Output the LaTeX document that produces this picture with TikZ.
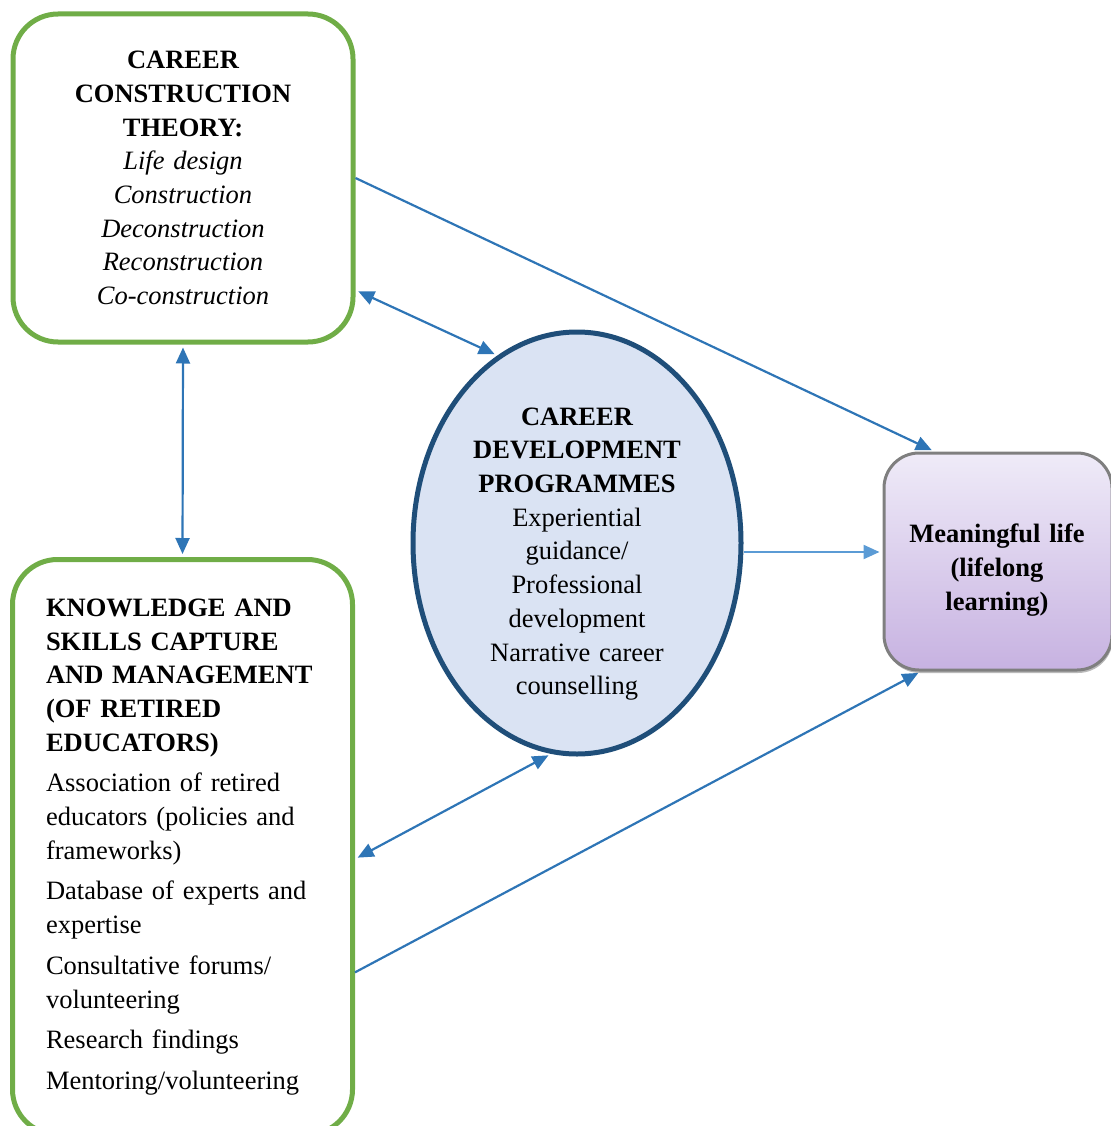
\documentclass[tikz,border=0pt]{standalone}
\usepackage{fontspec}
\usepackage{tikz}
\usetikzlibrary{shapes,arrows.meta,positioning,calc,shadows}
\setmainfont{Liberation Serif}
\definecolor{cctgreen}{HTML}{70AD47}
\definecolor{cdpblue}{HTML}{1F4E79}
\definecolor{cdpfill}{HTML}{DAE3F3}
\definecolor{linkblue}{HTML}{2E75B6}
\definecolor{lightlink}{HTML}{5B9BD5}
\definecolor{mflgray}{HTML}{7F7F7F}
\definecolor{mfltop}{HTML}{EFEBF8}
\definecolor{mflbot}{HTML}{C7B2E1}

\begin{document}
\begin{tikzpicture}[x=1pt, y=-1pt,
    greenbox/.style={draw=cctgreen, line width=5pt, rounded corners=45pt, minimum width=340pt, inner sep=0pt},
    textfont/.style={font=\fontsize{26.5}{33.7}\selectfont},
    link/.style={draw=linkblue, line width=2.2pt, shorten >=3pt, -{Triangle[length=16pt,width=14pt]}},
    twoway/.style={link, shorten <=3pt, {Triangle[length=16pt,width=14pt]}-{Triangle[length=16pt,width=14pt]}}]
    \useasboundingbox (0,0) rectangle (1110,1126);

    \node[greenbox, minimum height=328pt, text width=300pt, align=center, textfont] (ccto) at (183,178)
        {\bfseries CAREER\\CONSTRUCTION\\THEORY:\\
         \mdseries\itshape Life design\\Construction\\Deconstruction\\Reconstruction\\Co-construction};

    \node[greenbox, minimum height=575pt, text width=273pt, align=left, textfont] (kscm) at (182.5,847)
        {\bfseries KNOWLEDGE AND\\SKILLS CAPTURE\\AND MANAGEMENT\\(OF RETIRED\\EDUCATORS)\\[7pt]
         \mdseries
         Association of retired\\educators (policies and\\frameworks)\\[7pt]
         Database of experts and\\expertise\\[7pt]
         Consultative forums/\\volunteering\\[7pt]
         Research findings\\[7pt]
         Mentoring/volunteering};

    \node[ellipse, draw=cdpblue, line width=5pt, fill=cdpfill, minimum width=328pt, minimum height=422pt, inner sep=0pt] (cdp) at (577,543) {};
    \node[text width=260pt, align=center, textfont] (cdptxt) at (577,554)
        {\bfseries CAREER\\DEVELOPMENT\\PROGRAMMES\\
         \mdseries Experiential\\guidance/\\Professional\\development\\Narrative career\\counselling};

    \node[draw=mflgray, line width=3pt, rounded corners=35pt, top color=mfltop, bottom color=mflbot,
          drop shadow={shadow xshift=1pt, shadow yshift=-3pt, fill=black!45, opacity=.6},
          minimum width=228pt, minimum height=217pt] (mfl) at (998,561.5) {};
    \node[text width=200pt, align=center, textfont] (mfltxt) at (997,570)
        {\bfseries Meaningful life\\(lifelong\\learning)};

    \draw[twoway] (ccto.south) -- (kscm.north);
    \draw[twoway] (ccto.-33) -- (cdp.113);
    \draw[link] (ccto.east) -- (mfl.120);
    \draw[link, draw=lightlink] ([yshift=-9pt]cdp.east) -- ([yshift=-9pt]cdp.east -| mfl.west);
    \draw[twoway] (kscm.-4) -- (cdp.-97);
    \draw[link] (kscm.-36) -- (mfl.235);
\end{tikzpicture}
\end{document}
